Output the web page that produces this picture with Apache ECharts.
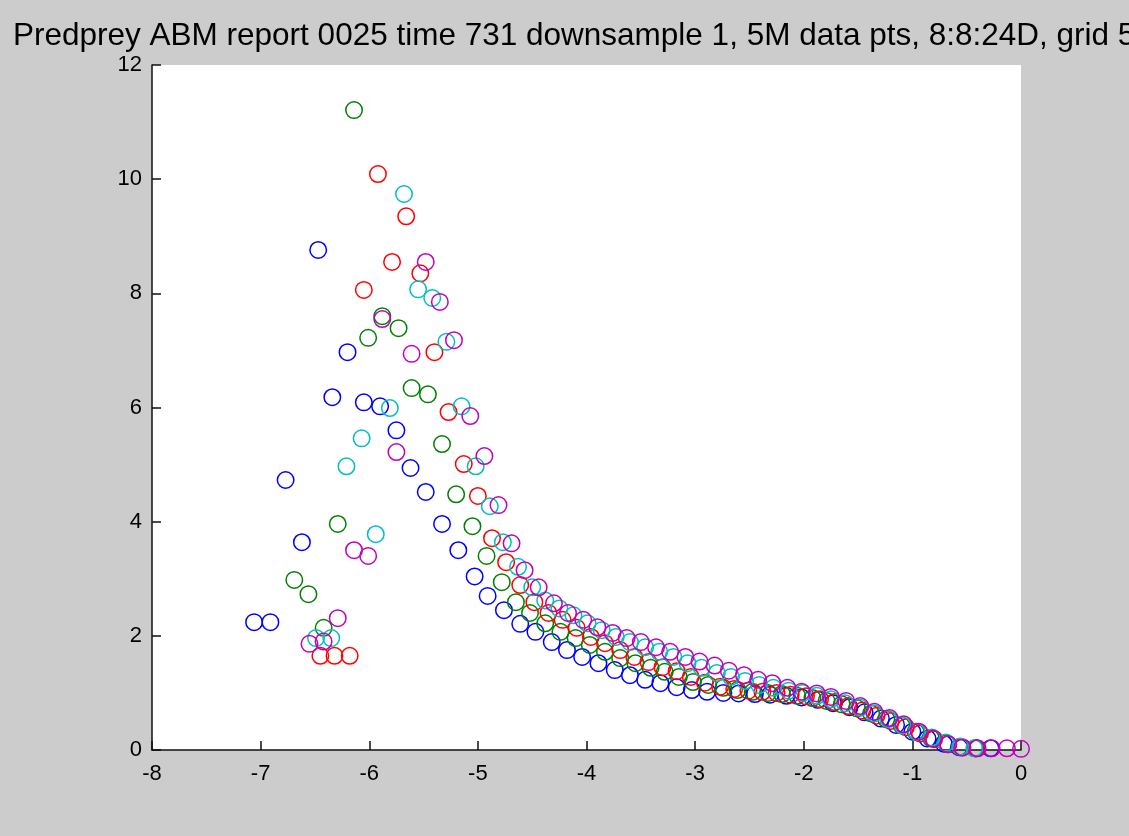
<!DOCTYPE html>
<html>
<head>
<meta charset="utf-8">
<script src="https://cdn.jsdelivr.net/npm/echarts@6/dist/echarts.min.js"></script>
<style>
html,body{margin:0;padding:0;background:#cccccc;}
#chart{width:1129px;height:836px;}
</style>
</head>
<body>
<div id="chart"></div>
<script>
const titleText = "Predprey ABM report 0025 time 731 downsample 1, 5M data pts, 8:8:24D, grid 5";
const xTicks = [-8, -7, -6, -5, -4, -3, -2, -1, 0];
const yTicks = [0, 2, 4, 6, 8, 10, 12];

const blueX = [-7.06,-6.91,-6.77,-6.62,-6.47,-6.34,-6.20,-6.05,-5.90,-5.75,-5.62,-5.48,-5.33,-5.18,-5.03,-4.91,-4.76,-4.61,-4.47,-4.32,-4.18,-4.04,-3.89,-3.74,-3.60,-3.46,-3.32,-3.17,-3.03,-2.89,-2.74,-2.60,-2.45,-2.31,-2.16,-2.02,-1.87,-1.73,-1.58,-1.44,-1.29,-1.15,-1.00,-0.86,-0.71,-0.57,-0.42,-0.28];
const blueY = [2.24,2.24,4.73,3.64,8.76,6.18,6.97,6.09,6.02,5.60,4.94,4.52,3.96,3.50,3.04,2.70,2.45,2.21,2.07,1.89,1.75,1.63,1.52,1.40,1.31,1.23,1.17,1.10,1.05,1.02,1.00,0.99,0.98,0.97,0.95,0.92,0.88,0.82,0.75,0.66,0.55,0.44,0.32,0.20,0.11,0.05,0.03,0.03];

const greenX = [-6.69,-6.56,-6.42,-6.29,-6.14,-6.01,-5.88,-5.73,-5.61,-5.46,-5.33,-5.20,-5.05,-4.92,-4.78,-4.65,-4.52,-4.38,-4.24,-4.10,-3.97,-3.83,-3.69,-3.55,-3.41,-3.28,-3.15,-3.02,-2.88,-2.74,-2.61,-2.47,-2.33,-2.20,-2.06,-1.92,-1.79,-1.65,-1.51,-1.38,-1.24,-1.10,-0.97,-0.83,-0.69,-0.56,-0.42];
const greenY = [2.98,2.73,2.14,3.96,11.21,7.22,7.60,7.39,6.34,6.23,5.36,4.48,3.92,3.40,2.94,2.59,2.40,2.22,2.07,1.96,1.84,1.72,1.61,1.52,1.44,1.37,1.28,1.19,1.14,1.09,1.05,1.02,1.00,0.98,0.95,0.91,0.86,0.80,0.73,0.64,0.54,0.43,0.32,0.21,0.12,0.05,0.03];

const redX = [-6.45,-6.32,-6.18,-6.05,-5.92,-5.79,-5.66,-5.53,-5.40,-5.27,-5.13,-5.00,-4.87,-4.74,-4.61,-4.48,-4.35,-4.22,-4.09,-3.96,-3.83,-3.69,-3.56,-3.43,-3.30,-3.17,-3.04,-2.91,-2.77,-2.64,-2.51,-2.38,-2.25,-2.12,-1.98,-1.85,-1.72,-1.59,-1.46,-1.33,-1.20,-1.06,-0.93,-0.80,-0.67,-0.54,-0.41];
const redY = [1.65,1.65,1.65,8.06,10.09,8.55,9.35,8.35,6.97,5.92,5.01,4.45,3.71,3.29,2.89,2.59,2.40,2.28,2.14,1.98,1.87,1.75,1.63,1.54,1.45,1.38,1.28,1.18,1.11,1.07,1.04,1.02,1.00,0.97,0.94,0.89,0.84,0.77,0.69,0.60,0.51,0.40,0.29,0.19,0.10,0.05,0.03];

const cyanX = [-6.49,-6.35,-6.21,-6.07,-5.94,-5.81,-5.68,-5.55,-5.42,-5.29,-5.15,-5.02,-4.89,-4.77,-4.63,-4.50,-4.38,-4.25,-4.12,-3.99,-3.86,-3.73,-3.60,-3.46,-3.33,-3.20,-3.07,-2.94,-2.80,-2.67,-2.54,-2.41,-2.28,-2.14,-2.01,-1.88,-1.75,-1.62,-1.48,-1.35,-1.22,-1.09,-0.96,-0.82,-0.69,-0.56,-0.43];
const cyanY = [1.96,1.96,4.97,5.46,3.78,5.99,9.74,8.07,7.92,7.15,6.02,4.97,4.27,3.64,3.21,2.85,2.62,2.48,2.36,2.22,2.10,1.98,1.89,1.80,1.72,1.63,1.52,1.44,1.35,1.28,1.21,1.14,1.09,1.04,1.00,0.95,0.89,0.82,0.74,0.64,0.54,0.43,0.32,0.22,0.13,0.06,0.03];

const magentaX = [-6.55,-6.42,-6.29,-6.14,-6.01,-5.88,-5.75,-5.61,-5.48,-5.35,-5.22,-5.07,-4.94,-4.81,-4.69,-4.57,-4.44,-4.30,-4.17,-4.03,-3.90,-3.76,-3.63,-3.50,-3.36,-3.23,-3.09,-2.96,-2.82,-2.69,-2.55,-2.42,-2.29,-2.15,-2.02,-1.88,-1.75,-1.61,-1.48,-1.35,-1.21,-1.08,-0.94,-0.81,-0.67,-0.54,-0.40,-0.27,-0.13,0.00];
const magentaY = [1.86,1.90,2.31,3.50,3.40,7.55,5.22,6.94,8.55,7.85,7.18,5.85,5.15,4.29,3.62,3.15,2.85,2.57,2.40,2.28,2.15,2.05,1.96,1.89,1.80,1.72,1.63,1.55,1.48,1.39,1.31,1.23,1.17,1.09,1.02,0.99,0.93,0.86,0.77,0.67,0.56,0.45,0.32,0.20,0.10,0.04,0.03,0.03,0.03,0.02];

const seriesDefs = [
  {name: 'b', x: blueX, y: blueY, color: '#0000ff'},
  {name: 'g', x: greenX, y: greenY, color: '#008000'},
  {name: 'r', x: redX, y: redY, color: '#ff0000'},
  {name: 'c', x: cyanX, y: cyanY, color: '#00bfbf'},
  {name: 'm', x: magentaX, y: magentaY, color: '#bf00bf'}
];

const chart = echarts.init(document.getElementById('chart'), null, {renderer: 'canvas'});
const FONT = '"Liberation Sans", Arial, sans-serif';

chart.setOption({
  backgroundColor: '#cccccc',
  animation: false,
  title: {
    text: titleText,
    left: 8,
    top: 15,
    textStyle: {fontFamily: FONT, fontSize: 31.5, fontWeight: 'normal', color: '#000'}
  },
  grid: {
    left: 152, top: 65, right: 108, bottom: 86,
    show: true, backgroundColor: '#ffffff', borderWidth: 0
  },
  xAxis: {
    type: 'value', min: -8, max: 0, interval: 1,
    axisLine: {show: true, onZero: false, lineStyle: {color: '#111', width: 1.5}},
    axisTick: {show: true, inside: true, length: 9, lineStyle: {color: '#111', width: 1.5}},
    splitLine: {show: false},
    axisLabel: {
      margin: 13, fontFamily: FONT, fontSize: 22, color: '#000',
      formatter: v => xTicks.includes(v) ? String(v) : ''
    }
  },
  yAxis: {
    type: 'value', min: 0, max: 12, interval: 2,
    axisLine: {show: true, onZero: false, lineStyle: {color: '#111', width: 1.5}},
    axisTick: {show: true, inside: true, length: 9, lineStyle: {color: '#111', width: 1.5}},
    splitLine: {show: false},
    axisLabel: {
      margin: 10, fontFamily: FONT, fontSize: 22, color: '#000',
      formatter: v => yTicks.includes(v) ? String(v) : ''
    }
  },
  series: seriesDefs.map(s => ({
    type: 'scatter',
    name: s.name,
    data: s.x.map((xv, i) => [xv, s.y[i]]),
    symbol: 'circle',
    symbolSize: 16.5,
    clip: false,
    itemStyle: {color: 'rgba(0,0,0,0)', borderColor: s.color, borderWidth: 1.5, opacity: 1},
    emphasis: {disabled: true}
  }))
});
</script>
</body>
</html>
